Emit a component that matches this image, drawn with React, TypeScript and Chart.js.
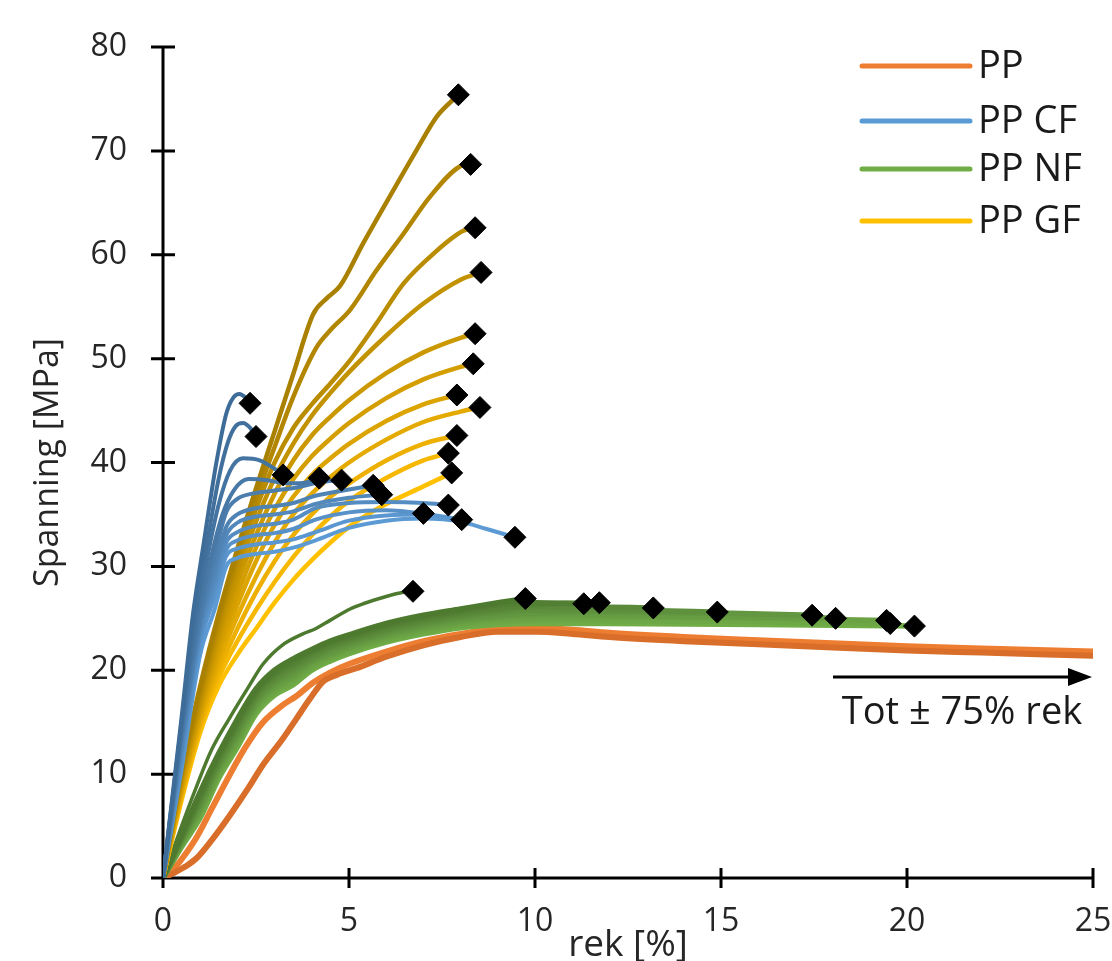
import React, { useEffect, useRef } from "react";
import { Chart, registerables } from "chart.js";

Chart.register(...registerables);

type Pt = [number, number];

const X_TICKS = [0, 5, 10, 15, 20, 25];
const Y_TICKS = [0, 10, 20, 30, 40, 50, 60, 70, 80];
const X_TITLE = "rek [%]";
const Y_TITLE = "Spanning [MPa]";
const LEGEND_LABELS = ["PP", "PP CF", "PP NF", "PP GF"];
const NOTE = "Tot ± 75% rek";

// PP (orange): two specimens
const PP_CURVES: Pt[][] = [
  [[0, 0], [0.3, 0.5], [0.6, 1.1], [0.9, 1.9], [1.3, 3.6], [1.79, 6.0], [2.3, 8.7], [2.69, 10.9], [3.2, 13.3], [3.58, 15.3], [3.94, 17.2], [4.3, 18.9], [4.7, 19.6], [5.2, 20.2], [6, 21.3], [7, 22.4], [8, 23.2], [9, 23.7], [10, 23.7], [11, 23.5], [12, 23.2], [14, 22.8], [16, 22.5], [18, 22.2], [20, 21.9], [22, 21.7], [25, 21.4]],
  [[0, 0], [0.27, 0.8], [0.5, 1.8], [0.9, 3.9], [1.3, 6.6], [1.79, 9.9], [2.2, 12.5], [2.69, 15.0], [3.2, 16.6], [3.58, 17.5], [4.03, 18.8], [4.5, 19.8], [5, 20.6], [6, 21.8], [7, 22.8], [8, 23.5], [9, 24.0], [10, 24.1], [11, 23.9], [12, 23.6], [14, 23.2], [16, 22.9], [18, 22.6], [20, 22.3], [22, 22.1], [25, 21.8]],
];

// PP CF (blue)
const CF_CURVES: Pt[][] = [
  [[0, 0], [0.5, 15.5], [0.81, 25.5], [1.08, 31.9], [1.43, 39.9], [1.7, 44.7], [1.9, 46.3], [2.06, 46.6], [2.2, 46.3], [2.34, 45.7]],
  [[0, 0], [0.5, 15], [0.85, 25], [1.15, 31.5], [1.5, 38.5], [1.75, 42], [1.95, 43.5], [2.15, 43.8], [2.35, 43.3], [2.5, 42.5]],
  [[0, 0], [0.5, 14.5], [0.9, 25], [1.2, 31], [1.5, 36], [1.8, 39.2], [2.15, 40.4], [2.6, 40.2], [3, 39.4], [3.23, 38.8]],
  [[0, 0], [0.5, 14], [0.95, 25], [1.3, 31], [1.6, 35], [1.9, 37.3], [2.3, 38.4], [2.8, 38.3], [3.3, 38], [3.7, 38], [4.2, 38.5]],
  [[0, 0], [0.5, 13.5], [1, 25], [1.35, 30.5], [1.7, 35.2], [2, 36.5], [2.4, 37], [3, 37.3], [3.6, 37.6], [4.2, 38.1], [4.8, 38.3]],
  [[0, 0], [0.5, 13], [1, 24.5], [1.4, 30], [1.7, 33.8], [2, 35], [2.5, 35.6], [3, 35.8], [3.5, 36.1], [4.1, 36.8], [5, 37.4], [5.65, 37.8]],
  [[0, 0], [0.5, 12.5], [1, 24], [1.4, 29.2], [1.7, 33], [2, 34.2], [2.5, 34.8], [3, 35], [3.5, 35.3], [4.1, 36], [5, 36.6], [5.88, 36.9]],
  [[0, 0], [0.5, 12], [1, 23.5], [1.4, 28.5], [1.7, 32.3], [2, 33.3], [2.5, 33.9], [3, 34.1], [3.5, 34.5], [4.1, 35.6], [5, 36.1], [6, 36.2], [7, 36.1], [7.67, 35.9]],
  [[0, 0], [0.5, 11.5], [1, 23], [1.4, 27.8], [1.7, 31.6], [2, 32.5], [2.5, 33], [3, 33.2], [3.5, 33.6], [4.1, 34.5], [5, 35.2], [6, 35.4], [7, 35.1]],
  [[0, 0], [0.5, 11], [1, 22.5], [1.4, 27.2], [1.7, 31], [2, 31.7], [2.5, 32.1], [3, 32.3], [3.5, 32.6], [4.1, 33.3], [5, 34.4], [6, 34.9], [7, 35], [8.03, 34.5]],
  [[0, 0], [0.5, 10.5], [1, 21.5], [1.4, 26], [1.7, 30], [2, 30.8], [2.5, 31.2], [3, 31.4], [3.5, 31.8], [4.1, 32.5], [5, 33.7], [6, 34.4], [7, 34.6], [8, 34.3], [8.7, 33.6], [9.46, 32.8]],
];

// PP GF (yellow / gold)
const GF_CURVES: Pt[][] = [
  [[0, 0], [0.5, 10.3], [1, 18.5], [1.5, 25.5], [2, 31.7], [2.5, 37.5], [3, 43], [3.5, 48.5], [4.04, 54.3], [4.4, 55.8], [4.76, 57], [5.38, 61.1], [6.19, 66.2], [6.82, 70.1], [7.36, 73.3], [7.94, 75.4]],
  [[0, 0], [0.5, 10], [1, 18], [1.5, 25], [2, 31], [2.5, 36.5], [3, 41.5], [3.5, 46.3], [4.13, 51.1], [4.49, 52.7], [5.03, 54.7], [5.74, 58.5], [6.46, 62], [7.18, 65.6], [7.98, 68.5], [8.27, 68.7]],
  [[0, 0], [0.5, 9.8], [1, 17.5], [1.5, 24.4], [2, 30.4], [2.5, 35.5], [3, 40], [3.5, 43.3], [4, 45.6], [4.5, 47.6], [5, 49.7], [5.74, 53.4], [6.46, 57.2], [7.27, 60.1], [8.07, 62.3], [8.39, 62.6]],
  [[0, 0], [0.5, 9.5], [1, 17], [1.5, 23.7], [2, 29.4], [2.5, 34.3], [3, 38.5], [3.5, 41.8], [4, 44.5], [4.5, 46.7], [5, 48.7], [6, 52.2], [7, 55.3], [8, 57.6], [8.55, 58.3]],
  [[0, 0], [0.5, 9.2], [1, 16.5], [1.5, 23], [2, 28.4], [2.5, 33], [3, 37], [3.5, 40.2], [4, 42.6], [4.5, 44.4], [5, 46], [6, 48.6], [7, 50.6], [8, 52], [8.39, 52.4]],
  [[0, 0], [0.5, 8.9], [1, 16], [1.5, 22.2], [2, 27.3], [2.5, 31.8], [3, 35.5], [3.5, 38.4], [4, 40.6], [4.5, 42.3], [5, 43.8], [6, 46.2], [7, 48], [8, 49.2], [8.34, 49.5]],
  [[0, 0], [0.5, 8.6], [1, 15.6], [1.5, 21.5], [2, 26.3], [2.5, 30.5], [3, 34], [3.5, 36.7], [4, 38.8], [4.5, 40.4], [5, 41.8], [6, 44], [7, 45.6], [7.9, 46.5]],
  [[0, 0], [0.5, 8.3], [1, 15.2], [1.5, 20.8], [2, 25.2], [2.5, 29], [3, 32.3], [3.5, 35], [4, 37], [4.5, 38.6], [5, 40], [6, 42.2], [7, 43.9], [8, 44.9], [8.52, 45.3]],
  [[0, 0], [0.5, 8], [1, 14.8], [1.5, 20], [2, 24], [2.5, 27.5], [3, 30.5], [3.5, 33], [4, 35], [4.5, 36.7], [5, 38], [6, 40.2], [7, 41.8], [7.9, 42.6]],
  [[0, 0], [0.5, 7.8], [1, 14.4], [1.5, 19.3], [2, 22.8], [2.5, 25.8], [3, 28.5], [3.5, 30.9], [4, 33], [4.5, 34.8], [5, 36.3], [6, 38.5], [7, 40.2], [7.67, 40.9]],
  [[0, 0], [0.5, 7.5], [1, 14], [1.5, 18.5], [2, 21.5], [2.5, 24], [3, 26.5], [3.5, 28.7], [4, 30.6], [4.5, 32.3], [5, 33.8], [5.5, 35], [6, 36], [7, 37.7], [7.76, 39]],
];

// PP NF (green band)
const NF_CURVES: Pt[][] = [
  [[0, 0], [0.5, 4.2], [1, 8.3], [1.5, 12.0], [2, 15.3], [2.5, 18.2], [3, 20.0], [3.5, 21.1], [4, 22.0], [4.5, 22.8], [5, 23.4], [6, 24.5], [7, 25.3], [8, 25.9], [9, 26.5], [9.74, 26.9]],
  [[0, 0], [0.5, 4.1], [1, 8.0], [1.5, 11.7], [2, 15.0], [2.5, 17.9], [3, 19.7], [3.5, 20.8], [4, 21.8], [4.5, 22.6], [5, 23.2], [6, 24.3], [7, 25.1], [8, 25.7], [9, 26.3], [10, 26.5], [11.31, 26.4]],
  [[0, 0], [0.5, 3.9], [1, 7.7], [1.5, 11.5], [2, 14.7], [2.5, 17.7], [3, 19.5], [3.5, 20.5], [4, 21.6], [4.5, 22.4], [5, 23.0], [6, 24.1], [7, 24.9], [8, 25.5], [9, 26.0], [10, 26.3], [11.73, 26.5]],
  [[0, 0], [0.5, 3.8], [1, 7.5], [1.5, 11.2], [2, 14.4], [2.5, 17.4], [3, 19.2], [3.5, 20.3], [4, 21.3], [4.5, 22.2], [5, 22.8], [6, 23.9], [7, 24.7], [8, 25.3], [9, 25.8], [10, 26.1], [11.5, 26.1], [13.18, 26.0]],
  [[0, 0], [0.5, 3.7], [1, 7.2], [1.5, 10.9], [2, 14.1], [2.5, 17.1], [3, 18.9], [3.5, 20.0], [4, 21.1], [4.5, 22.0], [5, 22.6], [6, 23.7], [7, 24.5], [8, 25.1], [9, 25.6], [10, 25.8], [12, 25.8], [14.9, 25.6]],
  [[0, 0], [0.5, 3.5], [1, 6.9], [1.5, 10.7], [2, 13.8], [2.5, 16.9], [3, 18.7], [3.5, 19.7], [4, 20.9], [4.5, 21.7], [5, 22.4], [6, 23.5], [7, 24.3], [8, 24.9], [9, 25.3], [10, 25.5], [12, 25.6], [15, 25.5], [17.45, 25.3]],
  [[0, 0], [0.5, 3.4], [1, 6.6], [1.5, 10.4], [2, 13.5], [2.5, 16.6], [3, 18.4], [3.5, 19.4], [4, 20.7], [4.5, 21.5], [5, 22.2], [6, 23.3], [7, 24.1], [8, 24.7], [9, 25.1], [10, 25.3], [12, 25.3], [15, 25.2], [18.08, 25.0]],
  [[0, 0], [0.5, 3.3], [1, 6.4], [1.5, 10.1], [2, 13.2], [2.5, 16.3], [3, 18.1], [3.5, 19.2], [4, 20.4], [4.5, 21.3], [5, 22.0], [6, 23.1], [7, 23.9], [8, 24.5], [9, 24.9], [10, 25.0], [12, 25.1], [16, 25.0], [19.45, 24.8]],
  [[0, 0], [0.5, 3.1], [1, 6.1], [1.5, 9.9], [2, 12.9], [2.5, 16.1], [3, 17.9], [3.5, 18.9], [4, 20.2], [4.5, 21.1], [5, 21.8], [6, 22.9], [7, 23.7], [8, 24.3], [9, 24.6], [10, 24.8], [12, 24.8], [16, 24.7], [19.55, 24.5]],
  [[0, 0], [0.5, 3.0], [1, 5.8], [1.5, 9.6], [2, 12.6], [2.5, 15.8], [3, 17.6], [3.5, 18.6], [4, 20.0], [4.5, 20.9], [5, 21.6], [6, 22.7], [7, 23.5], [8, 24.1], [9, 24.4], [10, 24.5], [12, 24.5], [16, 24.4], [20.2, 24.25]],
];

// PP NF – the single early-breaking specimen
const NF_SINGLE: Pt[] = [[0, 0], [0.5, 5], [0.9, 8.8], [1.3, 12.3], [1.79, 15.4], [2.3, 18.4], [2.69, 20.6], [3.2, 22.4], [3.76, 23.5], [4.1, 24], [4.49, 24.8], [5.03, 25.9], [5.38, 26.4], [6, 27.1], [6.46, 27.5], [6.72, 27.6]];

const PP_COLORS = ["#D86E2A", "#ED7D31"];
const CF_COLORS = ["#3E6C98", "#41709C", "#4474A1", "#4878A6", "#4B7DAD", "#4F83B4", "#5288BB", "#558DC2", "#5891C8", "#5A96CF", "#5C9AD4"];
const GF_COLORS = ["#A98000", "#B28600", "#BA8C00", "#C39200", "#CB9800", "#D49E00", "#DCA400", "#E5AA00", "#EDB000", "#F6B800", "#FFC000"];
const NF_COLORS = ["#4E7A30", "#527F33", "#568537", "#5A8A3A", "#5E903D", "#629640", "#669C42", "#6AA244", "#6DA746", "#70AD47"];
const NF_SINGLE_COLOR = "#4E7A30";
const LEGEND_COLORS = ["#ED7D31", "#5B9BD5", "#70AD47", "#FFC000"];

const FONT = "'Open Sans', 'DejaVu Sans', sans-serif";
const TEXT = "#262626";

const toXY = (c: Pt[]) => c.map(([x, y]) => ({ x, y }));

function lineSet(curve: Pt[], color: string, width: number) {
  return {
    data: toXY(curve),
    showLine: true,
    borderColor: color,
    backgroundColor: color,
    borderWidth: width,
    pointRadius: 0,
    tension: 0.4,
    cubicInterpolationMode: "monotone" as const,
    borderCapStyle: "round" as const,
    borderJoinStyle: "round" as const,
    fill: false,
  };
}

const decor = {
  id: "decor",
  beforeDatasetsDraw(chart: any) {
    const { ctx, scales } = chart;
    const x = scales.x;
    const y = scales.y;
    const x0 = x.getPixelForValue(X_TICKS[0]);
    const y0 = y.getPixelForValue(Y_TICKS[0]);
    ctx.save();
    ctx.strokeStyle = "#000";
    ctx.lineWidth = 3;
    ctx.beginPath();
    ctx.moveTo(x0, y.getPixelForValue(Y_TICKS[Y_TICKS.length - 1]));
    ctx.lineTo(x0, y0);
    ctx.moveTo(x0, y0);
    ctx.lineTo(x.getPixelForValue(X_TICKS[X_TICKS.length - 1]), y0);
    for (const v of Y_TICKS) {
      const p = y.getPixelForValue(v);
      ctx.moveTo(x0 - 12, p);
      ctx.lineTo(x0 + 12, p);
    }
    for (const v of X_TICKS) {
      const p = x.getPixelForValue(v);
      ctx.moveTo(p, y0 - 10);
      ctx.lineTo(p, y0 + 10);
    }
    ctx.stroke();
    ctx.restore();
  },
  afterDraw(chart: any) {
    const { ctx } = chart;
    ctx.save();
    // legend
    const rows = [66, 121, 169, 221];
    ctx.font = `38px ${FONT}`;
    ctx.textAlign = "left";
    ctx.textBaseline = "middle";
    LEGEND_LABELS.forEach((label, i) => {
      ctx.strokeStyle = LEGEND_COLORS[i];
      ctx.lineWidth = 5;
      ctx.lineCap = "round";
      ctx.beginPath();
      ctx.moveTo(862, rows[i]);
      ctx.lineTo(970, rows[i]);
      ctx.stroke();
      ctx.fillStyle = "#1a1a1a";
      ctx.fillText(label, 978, rows[i] + 1);
    });
    // arrow annotation
    ctx.strokeStyle = "#000";
    ctx.fillStyle = "#000";
    ctx.lineWidth = 3;
    ctx.lineCap = "butt";
    ctx.beginPath();
    ctx.moveTo(833, 677);
    ctx.lineTo(1072, 677);
    ctx.stroke();
    ctx.beginPath();
    ctx.moveTo(1092, 677);
    ctx.lineTo(1068, 668);
    ctx.lineTo(1068, 686);
    ctx.closePath();
    ctx.fill();
    ctx.font = `38px ${FONT}`;
    ctx.textAlign = "center";
    ctx.fillStyle = "#1a1a1a";
    ctx.fillText(NOTE, 962, 713);
    ctx.restore();
  },
};

export default function App() {
  const ref = useRef<HTMLCanvasElement | null>(null);

  useEffect(() => {
    const canvas = ref.current;
    if (!canvas) return;

    const ends = [...CF_CURVES, ...GF_CURVES, ...NF_CURVES, NF_SINGLE].map((c) => {
      const [x, y] = c[c.length - 1];
      return { x, y };
    });

    const datasets: any[] = [
      {
        data: ends,
        showLine: false,
        pointStyle: "rectRot",
        pointRadius: 11,
        backgroundColor: "#000",
        borderColor: "#000",
        borderWidth: 1,
      },
      ...CF_CURVES.map((c, i) => lineSet(c, CF_COLORS[i], 4)),
      ...GF_CURVES.map((c, i) => lineSet(c, GF_COLORS[i], 4.5)),
      lineSet(NF_SINGLE, NF_SINGLE_COLOR, 3.5),
      ...NF_CURVES.map((c, i) => lineSet(c, NF_COLORS[i], 5.5)),
      ...PP_CURVES.map((c, i) => lineSet(c, PP_COLORS[i], 6)),
    ];

    const chart = new Chart(canvas, {
      type: "scatter",
      data: { datasets },
      options: {
        responsive: false,
        animation: false,
        devicePixelRatio: 1,
        events: [],
        layout: { padding: { top: 47, right: 19, left: 0, bottom: 0 } },
        plugins: { legend: { display: false }, tooltip: { enabled: false } },
        scales: {
          x: {
            type: "linear",
            min: X_TICKS[0],
            max: X_TICKS[X_TICKS.length - 1],
            afterBuildTicks: (s: any) => {
              s.ticks = X_TICKS.map((v) => ({ value: v }));
            },
            grid: { display: false, drawTicks: false },
            border: { display: false },
            ticks: { font: { family: FONT, size: 32 }, color: TEXT, padding: 25, maxRotation: 0, autoSkip: false },
            title: { display: true, text: X_TITLE, font: { family: FONT, size: 37 }, color: TEXT, padding: { top: 0, bottom: -7 } },
            afterFit: (s: any) => {
              s.height = 83;
              s.paddingLeft = 0;
              s.paddingRight = 0;
              s.paddingTop = 0;
              s.paddingBottom = 0;
            },
          },
          y: {
            type: "linear",
            min: Y_TICKS[0],
            max: Y_TICKS[Y_TICKS.length - 1],
            afterBuildTicks: (s: any) => {
              s.ticks = Y_TICKS.map((v) => ({ value: v }));
            },
            grid: { display: false, drawTicks: false },
            border: { display: false },
            ticks: { font: { family: FONT, size: 32 }, color: TEXT, padding: 36, autoSkip: false },
            title: { display: true, text: Y_TITLE, font: { family: FONT, size: 34 }, color: TEXT, padding: { top: 28, bottom: 0 } },
            afterFit: (s: any) => {
              s.width = 163;
              s.paddingLeft = 0;
              s.paddingRight = 0;
              s.paddingTop = 0;
              s.paddingBottom = 0;
            },
          },
        },
      } as any,
      plugins: [decor],
    });

    return () => chart.destroy();
  }, []);

  return (
    <div style={{ position: "absolute", left: 0, top: 0, width: 1112, height: 961, background: "#fff" }}>
      <canvas ref={ref} width={1112} height={961} style={{ display: "block", width: 1112, height: 961 }} />
    </div>
  );
}
